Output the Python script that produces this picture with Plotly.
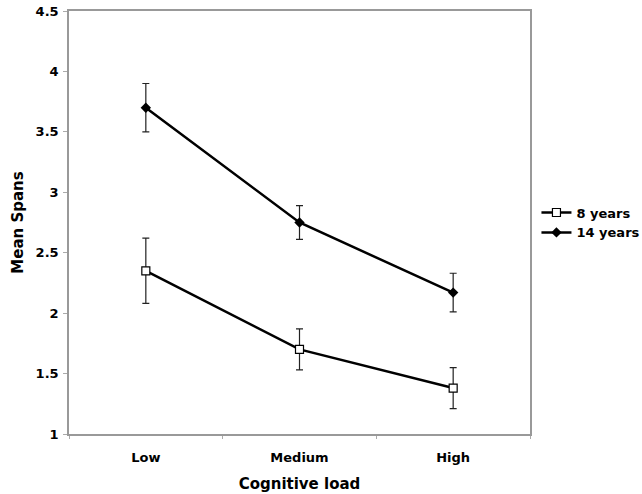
import plotly.graph_objects as go

categories = ["Low", "Medium", "High"]
age8_means = [2.35, 1.70, 1.38]
age8_err = [0.27, 0.17, 0.17]
age14_means = [3.70, 2.75, 2.17]
age14_err = [0.20, 0.14, 0.16]
y_ticks = [1, 1.5, 2, 2.5, 3, 3.5, 4, 4.5]

FONT = "DejaVu Sans"

fig = go.Figure()
fig.add_trace(go.Scatter(
    x=categories, y=age8_means, name="<b>8 years</b>", mode="lines+markers",
    line=dict(color="black", width=2.5),
    marker=dict(symbol="square", size=8, color="white", line=dict(color="black", width=1.2)),
    error_y=dict(type="data", array=age8_err, visible=True, color="#222", thickness=1.2, width=3.5),
))
fig.add_trace(go.Scatter(
    x=categories, y=age14_means, name="<b>14 years</b>", mode="lines+markers",
    line=dict(color="black", width=2.5),
    marker=dict(symbol="diamond", size=8, color="black"),
    error_y=dict(type="data", array=age14_err, visible=True, color="#222", thickness=1.2, width=3.5),
))

fig.update_layout(
    width=642, height=494,
    margin=dict(l=69, r=112, t=11, b=60, autoexpand=False),
    paper_bgcolor="white", plot_bgcolor="white",
    font=dict(family=FONT, color="black", size=13),
    showlegend=True,
    legend=dict(x=1.014, y=0.559, xanchor="left", yanchor="top",
                font=dict(family=FONT, size=13, color="black"),
                bgcolor="rgba(0,0,0,0)", tracegroupgap=0, itemwidth=30),
    xaxis=dict(
        type="category", range=[-0.5, 2.5], tickson="boundaries", ticks="outside", ticklen=3,
        tickcolor="#aaa", showline=True, linecolor="#999", linewidth=1.5, mirror=True,
        showgrid=False, zeroline=False, automargin=False, ticklabelstandoff=11,
        tickfont=dict(family=FONT, size=13, color="black", weight="bold"),
        title=dict(text="<b>Cognitive load</b>", font=dict(family=FONT, size=15, color="black"), standoff=14),
    ),
    yaxis=dict(
        range=[1, 4.5], tickvals=y_ticks, ticktext=[f"<b>{v:g}</b>" for v in y_ticks],
        ticks="outside", ticklen=4, tickcolor="#aaa",
        showline=True, linecolor="#999", linewidth=1.5, mirror=True,
        showgrid=False, zeroline=False, automargin=False, ticklabelstandoff=2,
        ticklabeloverflow="allow",
        tickfont=dict(family=FONT, size=13, color="black"),
        title=dict(text="<b>Mean Spans</b>", font=dict(family=FONT, size=15, color="black"), standoff=8),
    ),
)

# remove the default 8px page margin so the figure fills the window exactly
fig.write_html("out.html", config={"displayModeBar": False},
               post_script="document.body.style.margin='0';")
